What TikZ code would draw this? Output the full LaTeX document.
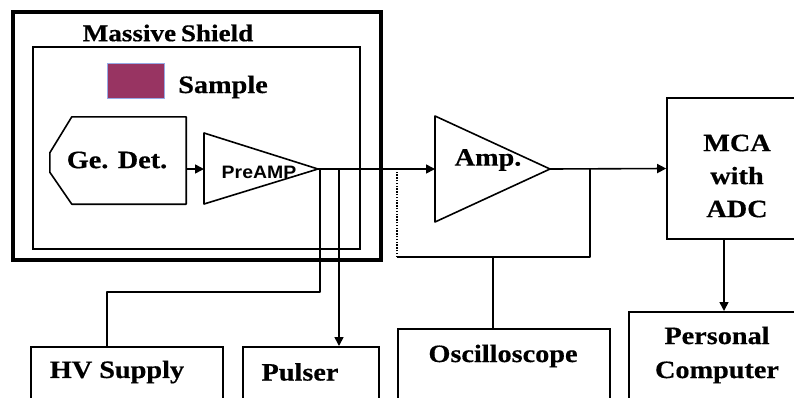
\documentclass[tikz,border=0pt]{standalone}
\usepackage{fontspec}
\setmainfont[FakeStretch=1.13, BoldFeatures={FakeBold=0.5}]{Liberation Serif}
\newfontfamily\pafont[FakeStretch=1.08]{Liberation Sans}
\usetikzlibrary{arrows.meta}
\definecolor{samplecol}{RGB}{152,52,98}
\definecolor{samplebd}{RGB}{150,170,230}
\tikzset{
  lbl/.style={font=\fontsize{25}{33}\selectfont\bfseries, inner sep=0pt, align=center},
  box/.style={draw, line width=1.6pt, inner sep=0pt},
  ln/.style={line width=1.6pt},
  arr/.style={line width=1.6pt, -{Triangle[length=9pt,width=9pt]}},
}
\begin{document}
\begin{tikzpicture}[x=1pt,y=-1pt]
\useasboundingbox (0,0) rectangle (794,397);
\clip (0,0) rectangle (794,397);
% shield
\node[draw, line width=3.5pt, minimum width=368pt, minimum height=248pt, anchor=north west, inner sep=0pt] (shield) at (11,10) {};
\node[box, minimum width=327pt, minimum height=202pt, anchor=north west] (inner) at (32,46) {};
\node[lbl, font=\fontsize{24}{30}\selectfont\bfseries] (shieldlbl) at (168,33) {Massive\hspace{-2pt} Shield};
% sample
\node[draw=samplebd, line width=0.6pt, fill=samplecol, minimum width=57pt, minimum height=35pt, inner sep=0pt] (sample) at (135.5,80.5) {};
\node[lbl] (samplelbl) at (223,87) {Sample};
% Ge detector
\node[minimum width=136pt, minimum height=87pt, inner sep=0pt] (ge) at (118,160.5) {};
\draw[ln, line join=round] (ge.north east) -- (ge.south east) -- ([xshift=22pt]ge.south west)
  -- ([yshift=32pt]ge.south west) -- ([yshift=-36pt]ge.north west) -- ([xshift=22pt]ge.north west) -- cycle;
\node[lbl] (gelbl) at (117,160) {Ge. Det.};
% PreAMP
\coordinate (preW) at (204,169);
\coordinate (preE) at (318,169);
\draw[ln, line join=round] (204,133) -- (preE) -- (204,204) -- cycle;
\node[font=\pafont\fontsize{18}{20}\selectfont\bfseries, inner sep=0pt] (pre) at (259,172) {PreAMP};
\draw[arr] (ge.east |- preW) -- (preW);
% Amp
\coordinate (ampW) at (435,169);
\coordinate (ampE) at (550,169);
\draw[ln, line join=round] (435,116) -- (ampE) -- (435,222) -- cycle;
\node[lbl] (amp) at (488,160) {Amp.};
\draw[arr] (preE) -- (ampW);
% MCA
\node[box, minimum width=140pt, minimum height=141pt] (mca) at (737,168.5) {};
\node[lbl] (mcalbl) at (737,176) {MCA\\with\\ADC};
\draw[arr] (ampE) -- (mca.west);
% Personal computer
\node[box, minimum width=178pt, minimum height=120pt, anchor=north west] (pcbox) at (628,311) {};
\node[lbl, font=\fontsize{25}{34}\selectfont\bfseries] (pc) at (717,355) {Personal\\Computer};
\coordinate (mcaS) at (724,239);
\draw[arr] (mcaS) -- (mcaS |- pcbox.north);
% feedback loop to oscilloscope
\coordinate (fbA) at (590,169);
\coordinate (fbB) at (590,257);
\coordinate (fbC) at (397,257);
\coordinate (fbD) at (397,171);
\coordinate (oscT) at (493,257);
\draw[ln, line join=round] (fbA) -- (fbB) -- (fbC);
\draw[line width=1.8pt, dash pattern=on 1.4pt off 1.4pt] (fbC) -- (fbD);
\node[box, minimum width=212pt, minimum height=100pt, anchor=north west] (oscbox) at (397,328) {};
\node[lbl] (osc) at (503,356) {Oscilloscope};
\draw[ln] (oscT) -- (oscT |- oscbox.north);
% HV supply and pulser
\node[box, minimum width=192pt, minimum height=80pt, anchor=north west] (hvbox) at (30,346) {};
\node[lbl] (hv) at (117,372) {HV Supply};
\node[box, minimum width=136pt, minimum height=80pt, anchor=north west] (pulbox) at (242,346) {};
\node[lbl] (pul) at (300,372) {Pulser};
\coordinate (hvA) at (320,169);
\coordinate (hvB) at (320,292);
\coordinate (hvC) at (107,292);
\draw[ln, line join=round] (hvA) -- (hvB) -- (hvC) -- (hvC |- hvbox.north);
\coordinate (pulA) at (339,169);
\draw[arr] (pulA) -- (pulA |- pulbox.north);
\end{tikzpicture}
\end{document}
